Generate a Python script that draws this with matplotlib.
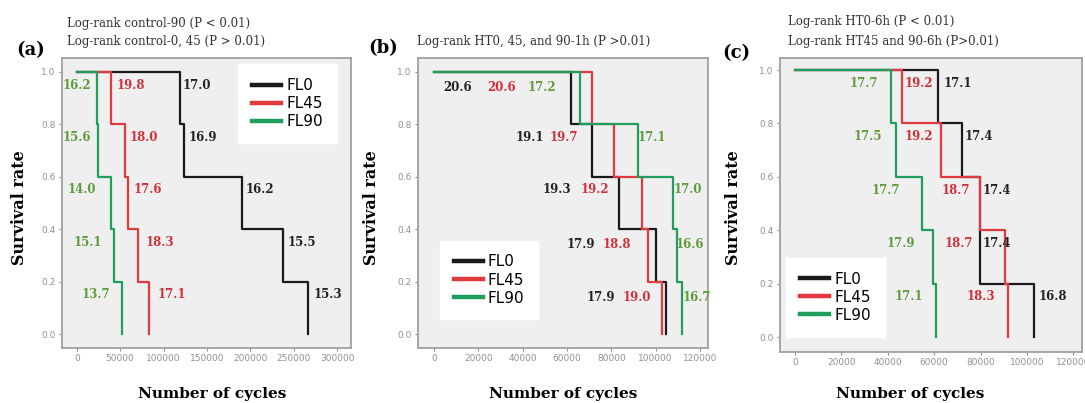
import matplotlib
matplotlib.use("Agg")
from matplotlib import pyplot as plt

# failure cycles of the five specimens in each group (survival drops by 0.2 each)
a_fl0 = [119000, 124000, 190000, 238000, 267000]
a_fl45 = [40000, 56000, 59000, 71000, 83000]
a_fl90 = [23000, 24000, 39000, 43000, 52000]

b_fl0 = [62000, 71400, 83600, 100000, 104500]
b_fl45 = [71400, 81300, 94000, 96600, 103000]
b_fl90 = [65900, 92200, 108000, 109500, 112000]

c_fl0 = [61500, 71900, 79700, 79700, 102800]
c_fl45 = [46000, 62900, 79700, 90500, 91700]
c_fl90 = [41400, 43500, 54600, 59600, 60800]

survival = [1.0, 0.8, 0.6, 0.4, 0.2, 0.0]

# values written next to each step
a_fl0_txt = ["17.0", "16.9", "16.2", "15.5", "15.3"]
a_fl45_txt = ["19.8", "18.0", "17.6", "18.3", "17.1"]
a_fl90_txt = ["16.2", "15.6", "14.0", "15.1", "13.7"]
b_fl0_txt = ["20.6", "19.1", "19.3", "17.9", "17.9"]
b_fl45_txt = ["20.6", "19.7", "19.2", "18.8", "19.0"]
b_fl90_txt = ["17.2", "17.1", "17.0", "16.6", "16.7"]
c_fl0_txt = ["17.1", "17.4", "17.4", "17.4", "16.8"]
c_fl45_txt = ["19.2", "19.2", "18.7", "18.7", "18.3"]
c_fl90_txt = ["17.7", "17.5", "17.7", "17.9", "17.1"]

labels = ["FL0", "FL45", "FL90"]
line_cols = ["#1a1a1a", "#e0393e", "#1f9e5e"]
text_cols = ["#222222", "#d0303a", "#5f9a3c"]

W, H = 1085, 403
fig = plt.figure(figsize=(W / 100, H / 100), dpi=100)
fig.patch.set_facecolor("white")

SERIF = ["DejaVu Serif"]


def px_axes(l, t, r, b):
    return fig.add_axes([l / W, 1 - b / H, (r - l) / W, (b - t) / H])


def panel(box, xlim, ylim, xticks, groups, texts, textx, texty, leg_anchor):
    ax = px_axes(*box)
    ax.set_facecolor("#efefef")
    for s in ax.spines.values():
        s.set_color("#a0a0a0")
        s.set_linewidth(1.3)
    for times, col, lab in zip(groups, line_cols, labels):
        ax.step([0] + times, survival, where="post", color=col, lw=1.6, label=lab)
    for txts, xs, col in zip(texts, textx, text_cols):
        for t, x, y in zip(txts, xs, texty):
            ax.text(x, y, t, color=col, family=SERIF, fontweight="bold",
                    fontsize=8.5, ha="left", va="center")
    ax.set_xlim(*xlim)
    ax.set_ylim(*ylim)
    ax.set_xticks(xticks)
    ax.set_xticklabels([str(v) for v in xticks])
    ax.set_yticks([0.0, 0.2, 0.4, 0.6, 0.8, 1.0])
    ax.set_yticklabels(["0.0", "0.2", "0.4", "0.6", "0.8", "1.0"])
    ax.tick_params(axis="both", labelsize=6.5, labelcolor="#909090",
                   color="#909090", length=2.5, width=0.8, pad=2)
    leg = ax.legend(loc="upper left", bbox_to_anchor=leg_anchor, frameon=True,
                    fancybox=False, framealpha=1, edgecolor="white",
                    facecolor="white", fontsize=11, handlelength=1.9,
                    handletextpad=0.35, labelspacing=0.2, borderpad=0.9,
                    borderaxespad=0)
    for h in leg.get_lines():
        h.set_linewidth(3.2)
    return ax


rows = [0.95, 0.75, 0.55, 0.35, 0.15]

panel((62, 58, 351, 348), (-17000, 316000), (-0.053, 1.053),
      list(range(0, 300001, 50000)),
      [a_fl0, a_fl45, a_fl90],
      [a_fl0_txt, a_fl45_txt, a_fl90_txt],
      [[122000, 129000, 195000, 243000, 273000],
       [46000, 61000, 65000, 79000, 93000],
       [-16000, -16000, -11000, -4000, 6000]],
      rows, (0.61, 0.978))

panel((418, 58, 708, 348), (-7200, 123600), (-0.053, 1.053),
      list(range(0, 120001, 20000)),
      [b_fl0, b_fl45, b_fl90],
      [b_fl0_txt, b_fl45_txt, b_fl90_txt],
      [[4000, 37000, 49000, 60000, 69000],
       [24000, 52000, 66000, 76000, 85000],
       [42000, 92000, 108000, 109000, 112000]],
      [0.94, 0.75, 0.55, 0.34, 0.14], (0.075, 0.37))

panel((780, 58, 1082, 352), (-6500, 123700), (-0.056, 1.045),
      list(range(0, 120001, 20000)),
      [c_fl0, c_fl45, c_fl90],
      [c_fl0_txt, c_fl45_txt, c_fl90_txt],
      [[64000, 73000, 81000, 81000, 105000],
       [47400, 47400, 63000, 64600, 74000],
       [23700, 25000, 33000, 39500, 43000]],
      rows, (0.02, 0.32))


def ftext(x, y, s, **kw):
    fig.text(x / W, 1 - y / H, s, family=SERIF, **kw)


ftext(67, 23, "Log-rank control-90 (P < 0.01)", fontsize=8.5, va="center", color="#333333")
ftext(67, 42, "Log-rank control-0, 45 (P > 0.01)", fontsize=8.5, va="center", color="#333333")
ftext(417, 41, "Log-rank HT0, 45, and 90-1h (P >0.01)", fontsize=8.5, va="center", color="#333333")
ftext(788, 22, "Log-rank HT0-6h (P < 0.01)", fontsize=8.5, va="center", color="#333333")
ftext(788, 42, "Log-rank HT45 and 90-6h (P>0.01)", fontsize=8.5, va="center", color="#333333")

ftext(16, 50, "(a)", fontsize=13, fontweight="bold", va="center")
ftext(368, 48, "(b)", fontsize=13, fontweight="bold", va="center")
ftext(722, 53, "(c)", fontsize=13, fontweight="bold", va="center")

for x in (20, 372, 733):
    ftext(x, 208, "Survival rate", fontsize=11.5, fontweight="bold",
          rotation=90, ha="center", va="center")
for x in (212, 563, 910):
    ftext(x, 394, "Number of cycles", fontsize=11, fontweight="bold",
          ha="center", va="center")

plt.savefig("out.png", dpi=100)
